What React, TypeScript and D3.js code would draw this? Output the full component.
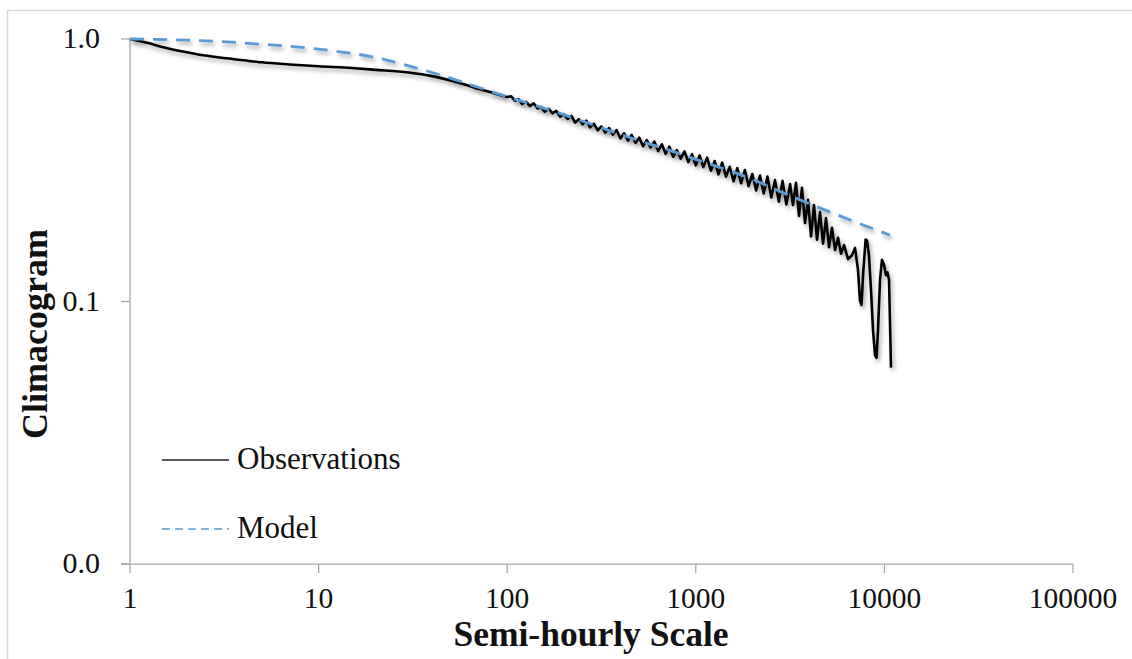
import React from "react";
import * as d3 from "d3";

// ---- Data ----
const xTicks = [1, 10, 100, 1000, 10000, 100000];
const xTickLabels = ["1", "10", "100", "1000", "10000", "100000"];
const yTicks = [1, 0.1, 0.01];
const yTickLabels = ["1.0", "0.1", "0.0"];

const obsSmoothScale = [1, 1.25, 1.5, 2, 2.5, 3, 4, 5, 7, 10, 15, 20, 30, 40, 50, 60, 70, 85, 100];
const obsSmoothValue = [1.0, 0.965, 0.93, 0.89, 0.865, 0.85, 0.83, 0.815, 0.8, 0.787, 0.775, 0.763, 0.745, 0.722, 0.695, 0.67, 0.647, 0.622, 0.601];

const obsMidScale = [100,105,110,115,120,126,132,138,145,151,158,166,174,182,191,200,209,219,229,240,251,263,275,288,302,316,331,347,363,380,398,417,437,457,479,501,525,550,575,603,631,661,692,724,759,794,832,871,912,955,1000,1047,1096,1148,1202,1259,1318,1380,1445,1514,1585,1660,1738,1820,1905,1995,2089,2188,2291,2399,2512,2630,2754,2884,3020,3162];
const obsMidValue = [0.601,0.605,0.582,0.589,0.566,0.576,0.555,0.569,0.544,0.551,0.529,0.542,0.521,0.532,0.506,0.517,0.496,0.510,0.480,0.495,0.473,0.489,0.461,0.476,0.449,0.464,0.440,0.458,0.432,0.450,0.418,0.437,0.410,0.431,0.402,0.421,0.390,0.412,0.386,0.407,0.374,0.397,0.365,0.389,0.356,0.377,0.350,0.373,0.340,0.364,0.330,0.360,0.325,0.353,0.315,0.343,0.305,0.338,0.299,0.326,0.287,0.322,0.282,0.317,0.275,0.306,0.265,0.302,0.258,0.299,0.249,0.290,0.240,0.288,0.234,0.280];

const obsTailScale = [3275,3398,3525,3656,3793,3935,4082,4234,4393,4557,4727,4903,5086,5276,5473,5678,5890,6110,6414,6733,6985,7245,7422,7560,7705,7950,8090,8280,8490,8700,8920,9080,9250,9480,9710,9950,10190,10380,10580,10700,10840];
const obsTailValue = [0.233,0.283,0.212,0.271,0.199,0.244,0.177,0.233,0.172,0.219,0.166,0.208,0.161,0.191,0.157,0.175,0.152,0.164,0.145,0.150,0.160,0.132,0.101,0.097,0.126,0.172,0.171,0.150,0.111,0.078,0.0625,0.061,0.078,0.121,0.144,0.138,0.126,0.129,0.121,0.085,0.056];

const modelScale = [1, 2, 3, 5, 10, 20, 30, 50, 70, 100, 200, 300, 500, 700, 1000, 2000, 3000, 5000, 7000, 10700];
const modelValue = [1.0, 0.99, 0.978, 0.955, 0.915, 0.85, 0.79, 0.71, 0.655, 0.603, 0.515, 0.465, 0.41, 0.38, 0.348, 0.292, 0.257, 0.221, 0.201, 0.179];

const seriesNames = ["Observations", "Model"];

// ---- Layout ----
const W = 1132;
const H = 659;
const x = d3.scaleLog().domain([1, 100000]).range([130, 1073]);
const y = d3.scaleLog().domain([0.01, 1]).range([564, 39]);

const smoothPts: [number, number][] = obsSmoothScale.map((s, i) => [s, obsSmoothValue[i]]);
const noisyPts: [number, number][] = [
  ...obsMidScale.map((s, i) => [s, obsMidValue[i]] as [number, number]),
  ...obsTailScale.map((s, i) => [s, obsTailValue[i]] as [number, number]),
];
const modelPts: [number, number][] = modelScale.map((s, i) => [s, modelValue[i]]);

const smoothLine = d3
  .line<[number, number]>()
  .x((d) => x(d[0]))
  .y((d) => y(d[1]))
  .curve(d3.curveMonotoneX);
const rawLine = d3
  .line<[number, number]>()
  .x((d) => x(d[0]))
  .y((d) => y(d[1]));

const serif = "'Liberation Serif', 'Times New Roman', serif";
const axisColor = "#A6A6A6";

export default function App() {
  const obsPath = (smoothLine(smoothPts) || "") + (rawLine(noisyPts) || "").replace(/^M/, "L");
  return (
    <svg
      width={W}
      height={H}
      style={{ position: "absolute", left: 0, top: 0, background: "#fff" }}
      fontFamily={serif}
    >
      <defs>
        <filter id="shadow" x="-10%" y="-10%" width="130%" height="130%">
          <feDropShadow dx="2" dy="3" stdDeviation="2.2" floodColor="#000" floodOpacity="0.35" />
        </filter>
      </defs>
      <rect x={0} y={0} width={W} height={H} fill="#fff" />
      <rect x={7.5} y={10.5} width={W + 20} height={H + 20} fill="none" stroke="#D9D9D9" strokeWidth={1.5} />

      {/* axes */}
      <line x1={x(1)} x2={x(1)} y1={y(1)} y2={y(0.01)} stroke={axisColor} strokeWidth={1.25} />
      <line x1={x(1) - 9} x2={x(100000)} y1={y(0.01)} y2={y(0.01)} stroke={axisColor} strokeWidth={1.25} />
      {yTicks.map((t, i) => (
        <g key={"y" + i}>
          <line x1={x(1) - 9} x2={x(1)} y1={y(t)} y2={y(t)} stroke={axisColor} strokeWidth={1.25} />
          <text x={100} y={y(t) + 9} textAnchor="end" fontSize={30} fill="#111">
            {yTickLabels[i]}
          </text>
        </g>
      ))}
      {xTicks.map((t, i) => (
        <g key={"x" + i}>
          <line x1={x(t)} x2={x(t)} y1={y(0.01)} y2={y(0.01) + 9} stroke={axisColor} strokeWidth={1.25} />
          <text x={x(t)} y={608} textAnchor="middle" fontSize={29.5} fill="#111">
            {xTickLabels[i]}
          </text>
        </g>
      ))}

      {/* series */}
      <path d={obsPath} fill="none" stroke="#000" strokeWidth={2.6} strokeLinejoin="round" filter="url(#shadow)" />
      <path d={smoothLine(modelPts) || ""} fill="none" stroke="#5B9BD5" strokeWidth={2.8} strokeDasharray="14 9" filter="url(#shadow)" />

      {/* axis titles */}
      <text x={591} y={646} textAnchor="middle" fontSize={35.5} fontWeight="bold" fill="#111">
        Semi-hourly Scale
      </text>
      <text transform="translate(47,334) rotate(-90)" textAnchor="middle" fontSize={36} fontWeight="bold" fill="#111">
        Climacogram
      </text>

      {/* legend */}
      <line x1={162} x2={229} y1={460} y2={460} stroke="#222" strokeWidth={1.5} />
      <text x={237} y={469} fontSize={31} fill="#111">{seriesNames[0]}</text>
      <line x1={162} x2={229} y1={529} y2={529} stroke="#5B9BD5" strokeWidth={1.5} strokeDasharray="8 5" />
      <text x={237} y={538} fontSize={31} fill="#111">{seriesNames[1]}</text>
    </svg>
  );
}
